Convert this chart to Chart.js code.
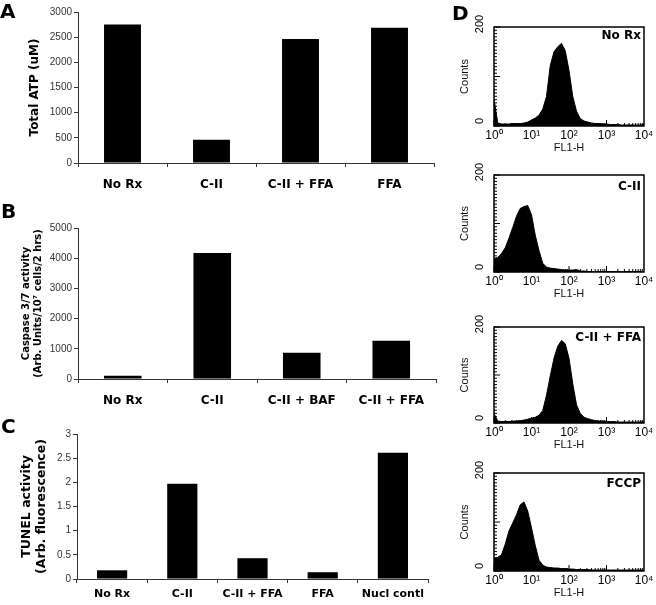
<!DOCTYPE html>
<html>
<head>
<meta charset="utf-8">
<script src="https://cdn.jsdelivr.net/npm/chart.js@4.4.0/dist/chart.umd.min.js"></script>
<style>
body { margin: 0; background: #fff; }
#fig { position: relative; width: 656px; height: 605px; overflow: hidden; }
canvas { position: absolute; }
.tag { position: absolute; font: bold 20px 'DejaVu Sans', sans-serif; line-height: 20px; color: #000; }
</style>
</head>
<body>
<div id="fig">
  <canvas id="chartA" width="445" height="192" style="left:0;top:0"></canvas>
  <canvas id="chartB" width="445" height="222" style="left:0;top:190px"></canvas>
  <canvas id="chartC" width="440" height="185" style="left:0;top:420px"></canvas>
  <canvas id="flow1" style="left:455px"></canvas>
  <canvas id="flow2" style="left:455px"></canvas>
  <canvas id="flow3" style="left:455px"></canvas>
  <canvas id="flow4" style="left:455px"></canvas>
  <div class="tag" style="left:0;top:1px">A</div>
  <div class="tag" style="left:1px;top:201px">B</div>
  <div class="tag" style="left:1px;top:416px">C</div>
  <div class="tag" style="left:452px;top:3px">D</div>
</div>
<script>
// Panel A - total ATP
const atpLabels = ['No Rx', 'C-II', 'C-II + FFA', 'FFA'];
const atpValues = [2750, 460, 2465, 2685];

// Panel B - caspase 3/7
const caspLabels = ['No Rx', 'C-II', 'C-II + BAF', 'C-II + FFA'];
const caspValues = [110, 4175, 870, 1265];

// Panel C - TUNEL
const tunelLabels = ['No Rx', 'C-II', 'C-II + FFA', 'FFA', 'Nucl contl'];
const tunelValues = [0.18, 1.97, 0.43, 0.14, 2.61];

// Panel D - flow histograms, counts per 0.1 decade from 10^0 to 10^4
const flowTickLabels = ['10⁰', '10¹', '10²', '10³', '10⁴'];
const flowCountTicks = [0, 200];
const flowNames = ['No Rx', 'C-II', 'C-II + FFA', 'FCCP'];
const countsNoRx = [55, 6, 4, 4, 4, 5, 5, 5, 6, 8, 12, 16, 22, 34, 60, 122, 150, 160, 167, 152,
  112, 60, 30, 15, 10, 8, 6, 5, 5, 4, 4, 3, 3, 3, 2, 2, 2, 2, 2, 2, 4];
const countsCII = [28, 30, 38, 50, 70, 92, 115, 131, 135, 137, 118, 76, 44, 18, 10, 8, 7, 6, 5, 4,
  4, 4, 5, 2, 2, 1, 1, 1, 1, 1, 1, 1, 1, 1, 1, 1, 1, 1, 1, 1, 1];
const countsCIIFFA = [20, 4, 3, 3, 3, 4, 4, 5, 6, 8, 10, 12, 16, 26, 58, 98, 135, 160, 172, 165,
  135, 82, 38, 20, 12, 9, 7, 5, 4, 4, 3, 3, 3, 2, 2, 2, 2, 2, 2, 2, 3];
const countsFCCP = [26, 28, 33, 55, 82, 98, 115, 135, 141, 122, 88, 52, 22, 12, 8, 7, 6, 6, 5, 5,
  4, 4, 3, 3, 3, 3, 2, 2, 2, 2, 2, 2, 2, 2, 2, 2, 2, 2, 2, 2, 2];

Chart.defaults.font.family = "'Liberation Sans', Arial, sans-serif";
Chart.defaults.devicePixelRatio = 1;

function barPanel(id, labels, values, cfg) {
  new Chart(document.getElementById(id), {
    type: 'bar',
    data: {
      labels: labels,
      datasets: [{ data: values, backgroundColor: '#000', barPercentage: cfg.bar, categoryPercentage: 1 }]
    },
    options: {
      responsive: false,
      animation: false,
      layout: { padding: { top: cfg.top, right: cfg.right, left: 0, bottom: 0 } },
      plugins: { legend: { display: false }, tooltip: { enabled: false } },
      scales: {
        x: {
          grid: { drawOnChartArea: false, offset: true, tickLength: 4, color: '#333' },
          border: { color: '#333' },
          ticks: {
            padding: cfg.labelPad, color: '#000', maxRotation: 0, autoSkip: false,
            font: { family: "'DejaVu Sans'", weight: 'bold', size: cfg.xFont }
          },
          afterFit: s => { s.height = cfg.xHeight; }
        },
        y: {
          min: 0, max: cfg.max,
          ticks: { stepSize: cfg.step, padding: 2, color: '#333', font: { size: 10 }, callback: v => String(v) },
          grid: { drawOnChartArea: false, tickLength: 4, color: '#333' },
          border: { color: '#333' },
          title: {
            display: true, text: cfg.title, color: '#000',
            font: { family: "'DejaVu Sans'", weight: 'bold', size: cfg.titleFont, lineHeight: cfg.titleLh },
            padding: { top: cfg.titlePad, bottom: 0 }
          },
          afterFit: s => { s.width = cfg.yWidth; }
        }
      }
    }
  });
}

barPanel('chartA', atpLabels, atpValues, {
  bar: 0.415, top: 12, right: 11, xHeight: 29, labelPad: 11, xFont: 12,
  max: 3000, step: 500, title: 'Total ATP (uM)', titleFont: 12, titleLh: 1.2, titlePad: 28, yWidth: 78
});
barPanel('chartB', caspLabels, caspValues, {
  bar: 0.42, top: 38, right: 9, xHeight: 33, labelPad: 11, xFont: 12,
  max: 5000, step: 1000, title: ['Caspase 3/7 activity', '(Arb. Units/10⁷ cells/2 hrs)'],
  titleFont: 10, titleLh: 1.15, titlePad: 21, yWidth: 78
});
barPanel('chartC', tunelLabels, tunelValues, {
  bar: 0.43, top: 14, right: 12, xHeight: 26, labelPad: 5, xFont: 11,
  max: 3, step: 0.5, title: ['TUNEL activity', '(Arb. fluorescence)'],
  titleFont: 12.5, titleLh: 1.2, titlePad: 19.5, yWidth: 77
});

// frame, minor ticks, rotated count labels and the panel name
const flowFrame = {
  id: 'flowFrame',
  afterDraw(chart, args, opts) {
    const { ctx, chartArea: a, scales: { x, y } } = chart;
    ctx.save();
    ctx.strokeStyle = '#000';
    ctx.lineWidth = 1.5;
    ctx.strokeRect(a.left, a.top, a.right - a.left, a.bottom - a.top);
    ctx.lineWidth = 1;
    ctx.beginPath();
    for (let d = 0; d < 4; d++) {
      for (let k = 1; k < 10; k++) {
        const px = x.getPixelForValue(d + Math.log10(k));
        ctx.moveTo(px, a.bottom);
        ctx.lineTo(px, a.bottom - (k === 1 ? 6 : 3));
      }
    }
    for (let i = 0; i <= 30; i++) {
      const py = y.getPixelForValue(i * 200 / 30);
      ctx.moveTo(a.left, py);
      ctx.lineTo(a.left + (i % 15 === 0 ? 6 : 3), py);
    }
    ctx.stroke();

    ctx.fillStyle = '#000';
    ctx.font = "11px 'Liberation Sans', sans-serif";
    ctx.textAlign = 'center';
    ctx.textBaseline = 'middle';
    flowCountTicks.forEach(v => {
      ctx.save();
      ctx.translate(a.left - 14, y.getPixelForValue(v) + (v === 0 ? -5 : -3));
      ctx.rotate(-Math.PI / 2);
      ctx.fillText(String(v), 0, 0);
      ctx.restore();
    });

    ctx.font = "bold 12px 'DejaVu Sans', sans-serif";
    ctx.textAlign = 'right';
    ctx.textBaseline = 'alphabetic';
    ctx.fillText(opts.label, a.right - 3, a.top + opts.dy);
    ctx.restore();
  }
};

function flowPanel(id, counts, name, boxTop, boxBottom, dy) {
  const canvas = document.getElementById(id);
  canvas.width = 201;
  canvas.height = boxBottom - boxTop + 12 + 34;
  canvas.style.top = (boxTop - 12) + 'px';
  new Chart(canvas, {
    type: 'line',
    data: {
      datasets: [{
        data: counts.map((c, i) => ({ x: i / 10, y: c })),
        borderColor: '#000', borderWidth: 1, backgroundColor: '#000',
        fill: 'origin', pointRadius: 0, tension: 0
      }]
    },
    plugins: [flowFrame],
    options: {
      responsive: false,
      animation: false,
      layout: { padding: { top: 12, right: 12, left: 0, bottom: 0 } },
      plugins: {
        legend: { display: false }, tooltip: { enabled: false },
        flowFrame: { label: name, dy: dy }
      },
      scales: {
        x: {
          type: 'linear', min: 0, max: 4,
          grid: { display: false, drawTicks: false },
          border: { display: false },
          ticks: {
            stepSize: 1, autoSkip: false, maxRotation: 0, padding: 2, color: '#000',
            font: { size: 12 }, callback: v => flowTickLabels[v]
          },
          title: {
            display: true, text: 'FL1-H', color: '#111', font: { size: 11 },
            padding: { top: 0, bottom: 5 }
          },
          afterFit: s => { s.height = 34; }
        },
        y: {
          min: 0, max: 200,
          grid: { display: false, drawTicks: false },
          border: { display: false },
          ticks: { display: false },
          title: {
            display: true, text: 'Counts', color: '#111', font: { size: 11 },
            padding: { top: 3.4, bottom: 0 }
          },
          afterFit: s => { s.width = 39; }
        }
      }
    }
  });
}

flowPanel('flow1', countsNoRx, flowNames[0], 27, 126, 12);
flowPanel('flow2', countsCII, flowNames[1], 175, 272, 15);
flowPanel('flow3', countsCIIFFA, flowNames[2], 327, 423, 14);
flowPanel('flow4', countsFCCP, flowNames[3], 473, 571, 14);
</script>
</body>
</html>
